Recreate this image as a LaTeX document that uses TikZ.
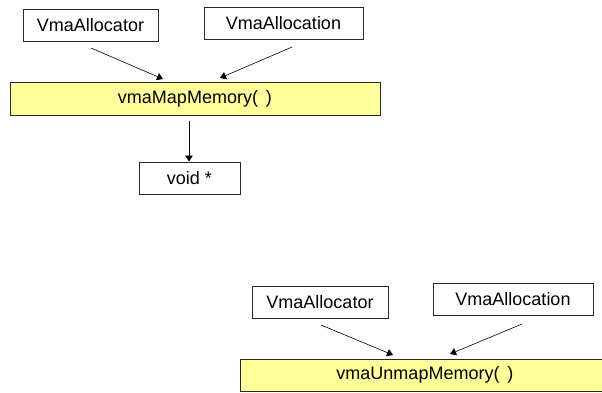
\documentclass[tikz,border=0pt]{standalone}
\usepackage{fontspec}
\setmainfont{Liberation Sans}
\usetikzlibrary{arrows.meta}
\definecolor{callfill}{RGB}{255,255,153}
\definecolor{boxline}{RGB}{40,40,40}
\tikzset{
  argbox/.style={draw=boxline, line width=1pt, fill=white, inner sep=0pt, minimum height=32pt, font=\fontsize{18}{21}\selectfont},
  callbox/.style={argbox, fill=callfill, minimum width=370pt, minimum height=33pt},
  flow/.style={line width=0.6pt, -{Triangle[length=6pt,width=7.5pt]}}
}
\begin{document}
\begin{tikzpicture}[x=1pt,y=1pt,yscale=-1,xscale=1]
\useasboundingbox (0,0) rectangle (602,392);

%vmaMapMemory
\node [argbox, minimum width=135pt] (allocA) at (90.5,25) {VmaAllocator};
\node [argbox, minimum width=159pt] (allocationA) at (283.5,23) {VmaAllocation};
\node [callbox] (map) at (195,98.5) {vmaMapMemory(\, )};
\node [argbox, minimum width=101pt] (ptr) at (189.5,178) {void *};

\coordinate (allocAout) at (91,48);
\coordinate (allocAin) at (163,79);
\coordinate (allocationAout) at (292,47);
\coordinate (allocationAin) at (220,78);
\coordinate (mapout) at (189,121);

\draw [flow] (allocAout) -- (allocAin);
\draw [flow] (allocationAout) -- (allocationAin);
\draw [flow] (mapout) -- (mapout |- ptr.north);

%vmaUnmapMemory
\node [argbox, minimum width=136pt] (allocB) at (320,302) {VmaAllocator};
\node [argbox, minimum width=160pt] (allocationB) at (513,299) {VmaAllocation};
\node [callbox, minimum height=32pt] (unmap) at (425,375) {vmaUnmapMemory(\, )};

\coordinate (allocBout) at (321,325);
\coordinate (allocBin) at (393,355);
\coordinate (allocationBout) at (522,324);
\coordinate (allocationBin) at (450,354);

\draw [flow] (allocBout) -- (allocBin);
\draw [flow] (allocationBout) -- (allocationBin);

\end{tikzpicture}
\end{document}
